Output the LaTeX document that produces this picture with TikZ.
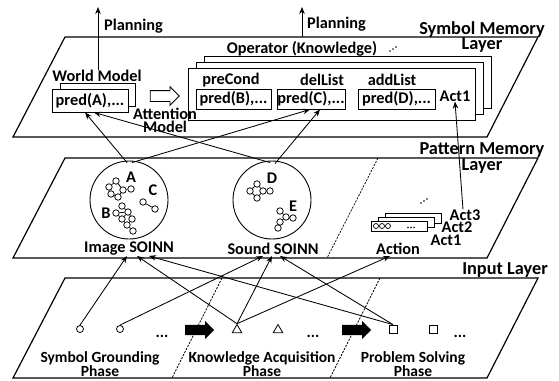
\documentclass[tikz,border=0pt]{standalone}
\usepackage{fontspec}
\setmainfont{Carlito}
\usetikzlibrary{arrows.meta,shapes.arrows,shapes.geometric}
\begin{document}
\begin{tikzpicture}[x=1pt,y=-1pt,
  txt/.style={font=\bfseries\fontsize{16.3}{13}\selectfont, inner sep=0pt, align=center},
  phase/.style={font=\bfseries\fontsize{15.5}{13}\selectfont, inner sep=0pt, align=center},
  lyr/.style={font=\bfseries\fontsize{18.3}{13.5}\selectfont, inner sep=0pt, align=center},
  layer/.style={draw, line width=1.2pt, line join=miter},
  box/.style={draw, line width=0.9pt, fill=white, inner sep=0pt},
  predbox/.style={box, font=\bfseries\fontsize{16.3}{13}\selectfont},
  conn/.style={-{Stealth[length=7pt,width=5.5pt]}, line width=0.85pt},
  divider/.style={dash pattern=on 2.2pt off 1.2pt, line width=0.7pt},
  soinn/.style={circle, draw, line width=0.9pt, minimum size=78pt, inner sep=0pt},
  cl/.style={circle, draw, line width=0.75pt, fill=white, minimum size=6.5pt, inner sep=0pt},
  link/.style={line width=0.75pt},
  inshape/.style={draw, line width=0.8pt, fill=white, inner sep=0pt},
  blockarrow/.style={single arrow, inner xsep=0pt, inner ysep=5pt, minimum height=29pt,
    single arrow head extend=3.8pt, single arrow tip angle=90},
  phasearrow/.style={blockarrow, fill=black},
  ell/.style={font=\bfseries\fontsize{16}{13}\selectfont, inner sep=0pt, anchor=base}
]
\useasboundingbox (0,0) rectangle (559,380);

% ---------- three layers ----------
\draw[layer] (65,37) -- (538,37) -- (487,137) -- (13,137) -- cycle;
\draw[layer] (65,158) -- (538,158) -- (487,258) -- (13,258) -- cycle;
\draw[layer] (65,278) -- (538,278) -- (487,378) -- (13,378) -- cycle;

% phase dividers
\draw[divider] (378,158) -- (327,258);
\draw[divider] (222,278) -- (172,378);
\draw[divider] (380,278) -- (330,378);

% layer names
\node[lyr] (symLbl) at (482,37) {Symbol Memory\\Layer};
\node[lyr] (patLbl) at (482,158) {Pattern Memory\\Layer};
\node[lyr] (inLbl) at (505,270) {Input Layer};

% ---------- symbol memory layer ----------
\node[txt] (wm) at (97,76) {World Model};
\node[box, minimum width=75pt, minimum height=23pt] (wmBack) at (97.5,94.5) {};
\node[predbox, minimum width=76pt, minimum height=23pt] (predA) at (90,100.5) {pred(A),...};

\node[blockarrow, draw, fill=white, line width=0.9pt] (attn) at (162,96) {};

\coordinate (plan1) at (98,7);
\draw[conn] (wm.north -| plan1) -- (plan1);
\node[txt, anchor=west] (plan1Lbl) at (104,26) {Planning};

\coordinate (plan2Base) at (302,37);
\coordinate (plan2) at (302,7);
\draw[conn] (plan2Base) -- (plan2);
\node[txt, anchor=west] (plan2Lbl) at (307,24) {Planning};

\node[txt] (opLbl) at (302,49) {Operator (Knowledge)};
\foreach \dx/\dy in {0/0,3/-2,6/-4} \fill (390+\dx,51+\dy) circle (0.9);

\node[box, minimum width=287pt, minimum height=52pt] (op3) at (347.5,82) {};
\node[box, minimum width=287pt, minimum height=52pt] (op2) at (339.5,88) {};
\node[box, minimum width=287pt, minimum height=52pt] (op1) at (331.5,94) {};

\node[txt] (preLbl) at (231,80) {preCond};
\node[txt] (delLbl) at (322,80) {delList};
\node[txt] (addLbl) at (392,80) {addList};
\node[predbox, minimum width=75pt, minimum height=20pt] (predB) at (233.5,99) {pred(B),...};
\node[predbox, minimum width=68pt, minimum height=20pt] (predC) at (311,99) {pred(C),...};
\node[predbox, minimum width=77pt, minimum height=20pt] (predD) at (396.5,99) {pred(D),...};
\node[txt] (act1S) at (455,96) {Act1};

% the label sits over the left edge of the operator stack
\node[txt] (attnLbl) at (165,120) {Attention\\Model};

% ---------- pattern memory layer ----------
\node[soinn] (img) at (129,200) {};
\node[soinn] (snd) at (272,200) {};
\node[txt] (imgLbl) at (129,249) {Image SOINN};
\node[txt] (sndLbl) at (273,249) {Sound SOINN};
\node[txt] (actLbl) at (398,249) {Action};

% cluster A
\node[cl] (a1) at (116,181) {};
\node[cl] (a2) at (109,187) {};
\node[cl] (a3) at (111,194) {};
\node[cl] (a4) at (118,197) {};
\node[cl] (a5) at (123,190) {};
\node[cl] (a6) at (131,189) {};
\draw[link] (a1) -- (a2) (a2) -- (a3) (a3) -- (a4) (a4) -- (a5) (a5) -- (a1) (a5) -- (a6);
\node[txt] (aLbl) at (131,177) {A};
% cluster B
\node[cl] (b1) at (122,206) {};
\node[cl] (b2) at (116,213) {};
\node[cl] (b3) at (128,212) {};
\node[cl] (b4) at (122,219) {};
\node[cl] (b5) at (132,219) {};
\node[cl] (b6) at (127,225) {};
\node[cl] (b7) at (133,231) {};
\draw[link] (b1) -- (b3) (b2) -- (b3) (b2) -- (b4) (b3) -- (b4) (b3) -- (b5)
  (b4) -- (b6) (b5) -- (b6) (b6) -- (b7);
\node[txt] (bLbl) at (106,213) {B};
% cluster C
\node[cl] (c1) at (143,202) {};
\node[cl] (c2) at (155,209) {};
\draw[link] (c1) -- (c2);
\node[txt] (cLbl) at (153,190) {C};
% cluster D
\node[cl] (d1) at (257,184) {};
\node[cl] (d2) at (250,191) {};
\node[cl] (d3) at (257,198) {};
\node[cl] (d4) at (263,191) {};
\node[cl] (d5) at (270,191) {};
\draw[link] (d1) -- (d2) (d2) -- (d3) (d3) -- (d4) (d4) -- (d1) (d4) -- (d5);
\node[txt] (dLbl) at (272,178) {D};
% cluster E
\node[cl] (e1) at (280,211) {};
\node[cl] (e2) at (286,217) {};
\node[cl] (e3) at (280,222) {};
\node[cl] (e4) at (293,218) {};
\node[cl] (e5) at (278,228) {};
\draw[link] (e1) -- (e2) (e2) -- (e3) (e2) -- (e4) (e3) -- (e5);
\node[txt] (eLbl) at (293,206) {E};

% action stack
\node[box, minimum width=56pt, minimum height=10pt] (ac3) at (413,218) {};
\node[box, minimum width=56pt, minimum height=10pt] (ac2) at (406,222) {};
\node[box, minimum width=56pt, minimum height=10pt] (ac1) at (399,226) {};
\foreach \cx in {376,382,388} \draw[line width=0.7pt] (\cx,226) circle (2.5);
\foreach \cx in {408,411,414} \fill (\cx,227.5) circle (0.8);
\foreach \dx/\dy in {0/0,3/-2,6/-4} \fill (421+\dx,203+\dy) circle (0.9);
\node[txt] (act3) at (465,215) {Act3};
\node[txt] (act2) at (457,227) {Act2};
\node[txt] (act1P) at (446,240) {Act1};

% ---------- input layer ----------
\node[inshape, circle, minimum size=7pt] (g1) at (80,329) {};
\node[inshape, circle, minimum size=7pt] (g2) at (120,329) {};
\node[ell] (gDots) at (162,337) {...};
\node[phasearrow] (ph1) at (197,330) {};
\node[inshape, regular polygon, regular polygon sides=3, minimum size=11pt] (k1) at (237,330) {};
\node[inshape, regular polygon, regular polygon sides=3, minimum size=11pt] (k2) at (278,330) {};
\node[ell] (kDots) at (313,337) {...};
\node[phasearrow] (ph2) at (354,330) {};
\node[inshape, rectangle, minimum size=8pt] (p1) at (393,329) {};
\node[inshape, rectangle, minimum size=8pt] (p2) at (433,329) {};
\node[ell] (pDots) at (460,337) {...};

\node[phase] (sgLbl) at (100,364) {Symbol Grounding\\Phase};
\node[phase] (kaLbl) at (262,364) {Knowledge Acquisition\\Phase};
\node[phase] (psLbl) at (413,364) {Problem Solving\\Phase};

% ---------- connectors ----------
% input to pattern memory
\coordinate (iA) at (127,256);
\coordinate (iB) at (137,256);
\coordinate (iC) at (149,256);
\coordinate (sA) at (263,256);
\coordinate (sB) at (272,256);
\coordinate (sC) at (280,256);
\coordinate (aA) at (390,256);
\draw[conn] (g1.north) -- (iA);
\draw[conn] (g2.north) -- (sA);
\draw[conn] (k1.north) -- (iB);
\draw[conn] (k1.north) -- (sB);
\draw[conn] (k1.north) -- (aA);
\draw[conn] (p1.north) -- (iC);
\draw[conn] (p1.north) -- (sC);

% pattern memory to symbol memory
\draw[conn] ([xshift=-2pt,yshift=-2pt]img.north) -- ([xshift=-5pt]predA.south);
\draw[conn] ([xshift=-2pt,yshift=-2pt]snd.north) -- ([xshift=4pt]predA.south);
\draw[conn] ([xshift=3pt,yshift=-2pt]img.north) -- ([xshift=-1pt]predC.south);
\draw[conn] ([xshift=3pt,yshift=-3pt]snd.north) -- ([xshift=9pt]predC.south);
\draw[conn] ([xshift=-2pt]act3.north) -- (act1S.south);
\end{tikzpicture}
\end{document}
